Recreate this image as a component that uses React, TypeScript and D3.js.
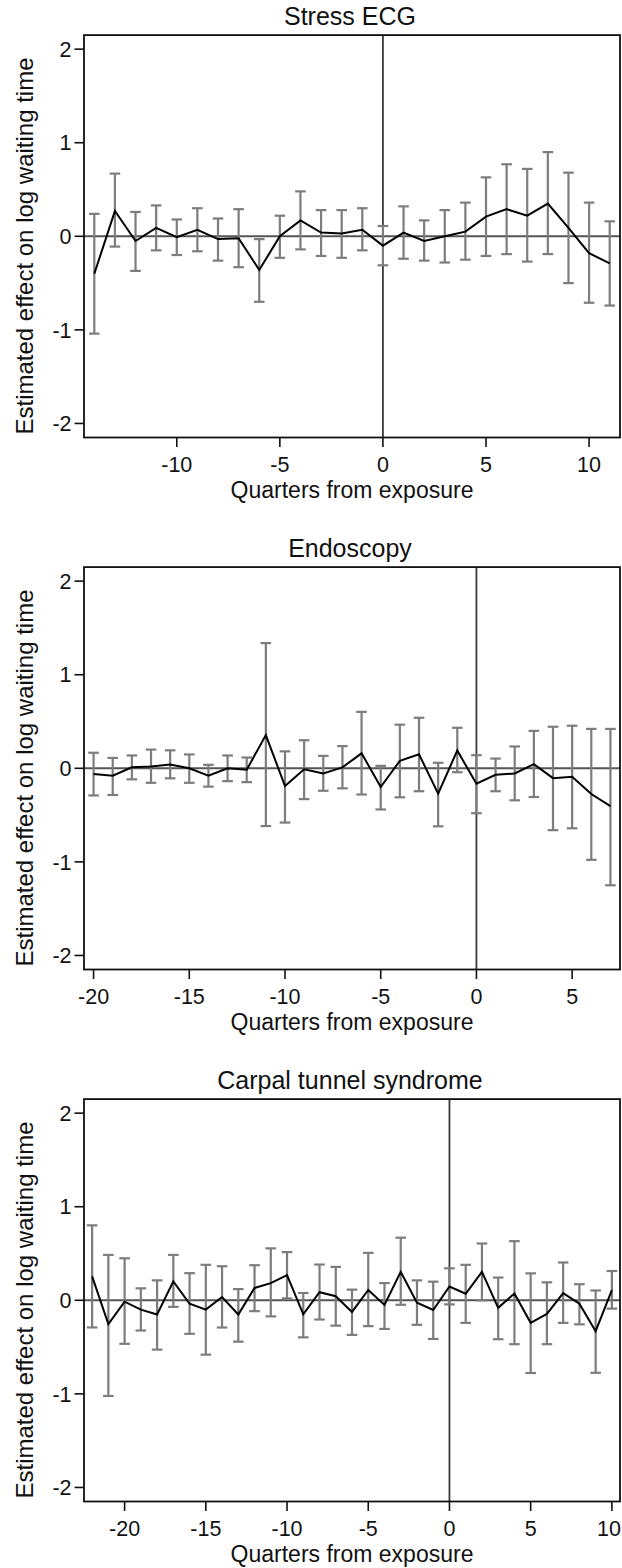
import React from "react";
import * as d3 from "d3";

// Stress ECG: event-study coefficients with 95% confidence bounds
const ecgQuarters = [-14, -13, -12, -11, -10, -9, -8, -7, -6, -5, -4, -3, -2, -1, 0, 1, 2, 3, 4, 5, 6, 7, 8, 9, 10, 11];
const ecgCoef = [-0.40, 0.27, -0.05, 0.09, -0.01, 0.07, -0.03, -0.02, -0.36, 0.00, 0.17, 0.04, 0.03, 0.07, -0.10, 0.04, -0.05, 0.00, 0.05, 0.21, 0.29, 0.22, 0.35, 0.09, -0.18, -0.29];
const ecgLower = [-1.04, -0.11, -0.37, -0.15, -0.20, -0.16, -0.26, -0.33, -0.70, -0.23, -0.14, -0.21, -0.23, -0.15, -0.31, -0.24, -0.26, -0.28, -0.25, -0.21, -0.19, -0.27, -0.19, -0.50, -0.71, -0.74];
const ecgUpper = [0.24, 0.67, 0.26, 0.33, 0.18, 0.30, 0.19, 0.29, -0.03, 0.22, 0.48, 0.28, 0.28, 0.30, 0.11, 0.32, 0.17, 0.28, 0.36, 0.63, 0.77, 0.72, 0.90, 0.68, 0.36, 0.16];

// Endoscopy
const endoQuarters = [-20, -19, -18, -17, -16, -15, -14, -13, -12, -11, -10, -9, -8, -7, -6, -5, -4, -3, -2, -1, 0, 1, 2, 3, 4, 5, 6, 7];
const endoCoef = [-0.06, -0.08, 0.01, 0.02, 0.04, 0.00, -0.08, 0.00, -0.015, 0.355, -0.19, -0.01, -0.055, 0.01, 0.16, -0.20, 0.08, 0.15, -0.27, 0.19, -0.165, -0.07, -0.055, 0.045, -0.105, -0.09, -0.275, -0.405];
const endoLower = [-0.29, -0.285, -0.118, -0.155, -0.107, -0.155, -0.196, -0.137, -0.148, -0.617, -0.58, -0.329, -0.24, -0.214, -0.28, -0.44, -0.31, -0.245, -0.62, -0.042, -0.48, -0.245, -0.342, -0.307, -0.661, -0.641, -0.978, -1.25];
const endoUpper = [0.166, 0.111, 0.137, 0.2, 0.192, 0.148, 0.037, 0.137, 0.115, 1.338, 0.181, 0.3, 0.133, 0.237, 0.603, 0.026, 0.466, 0.54, 0.059, 0.433, 0.14, 0.104, 0.233, 0.4, 0.444, 0.455, 0.421, 0.421];

// Carpal tunnel syndrome
const ctsQuarters = [-22, -21, -20, -19, -18, -17, -16, -15, -14, -13, -12, -11, -10, -9, -8, -7, -6, -5, -4, -3, -2, -1, 0, 1, 2, 3, 4, 5, 6, 7, 8, 9, 10];
const ctsCoef = [0.255, -0.255, -0.015, -0.10, -0.152, 0.202, -0.037, -0.10, 0.035, -0.152, 0.132, 0.183, 0.268, -0.15, 0.087, 0.044, -0.124, 0.11, -0.05, 0.304, -0.026, -0.104, 0.147, 0.07, 0.304, -0.08, 0.072, -0.241, -0.145, 0.076, -0.037, -0.33, 0.108];
const ctsLower = [-0.29, -1.022, -0.465, -0.323, -0.527, -0.07, -0.358, -0.581, -0.291, -0.442, -0.116, -0.172, 0.02, -0.396, -0.205, -0.271, -0.37, -0.276, -0.306, -0.048, -0.262, -0.413, -0.044, -0.241, 0.0, -0.416, -0.469, -0.777, -0.469, -0.241, -0.257, -0.775, -0.089];
const ctsUpper = [0.801, 0.485, 0.449, 0.128, 0.213, 0.485, 0.29, 0.379, 0.364, 0.12, 0.375, 0.555, 0.515, 0.078, 0.382, 0.357, 0.114, 0.507, 0.184, 0.669, 0.213, 0.199, 0.342, 0.379, 0.607, 0.243, 0.632, 0.288, 0.192, 0.404, 0.172, 0.105, 0.313];

const panelTitles = ["Stress ECG", "Endoscopy", "Carpal tunnel syndrome"];
const xDomains: [number, number][] = [[-14.5, 11.5], [-20.5, 7.5], [-22.5, 10.5]];
const xTickValues = [[-10, -5, 0, 5, 10], [-20, -15, -10, -5, 0, 5], [-20, -15, -10, -5, 0, 5, 10]];
const yTickValues = [-2, -1, 0, 1, 2];
const yDomain: [number, number] = [-2.15, 2.15];

const xTitle = "Quarters from exposure";
const yTitle = "Estimated effect on log waiting time";

const W = 622;
const H = 1568;
const FONT = "'Liberation Sans', Arial, Helvetica, sans-serif";
const PANEL_STEP = 532;
const LEFT = 84;
const RIGHT = 620;
const TOP = 35.1;
const BOTTOM = 437.5;
const TICK = 9.5;
const TICK_FONT = 21.5;

type Row = { q: number; b: number; lo: number; hi: number };

function zipRows(q: number[], b: number[], lo: number[], hi: number[]): Row[] {
  return q.map((v, i) => ({ q: v, b: b[i], lo: lo[i], hi: hi[i] }));
}

const panels: Row[][] = [
  zipRows(ecgQuarters, ecgCoef, ecgLower, ecgUpper),
  zipRows(endoQuarters, endoCoef, endoLower, endoUpper),
  zipRows(ctsQuarters, ctsCoef, ctsLower, ctsUpper),
];

function Panel({ idx }: { idx: number }) {
  const rows = panels[idx];
  const x = d3.scaleLinear().domain(xDomains[idx]).range([LEFT, RIGHT]);
  const y = d3.scaleLinear().domain(yDomain).range([BOTTOM, TOP]);
  const line = d3
    .line<Row>()
    .x((d) => x(d.q))
    .y((d) => y(d.b));
  const cap = 5.3;
  const cx = (LEFT + RIGHT) / 2;

  return (
    <g transform={`translate(0, ${idx * PANEL_STEP})`}>
      <text x={350} y={25} textAnchor="middle" fontSize={25} fontFamily={FONT} fill="#111">
        {panelTitles[idx]}
      </text>

      {/* reference lines */}
      <line x1={LEFT} x2={RIGHT} y1={y(0)} y2={y(0)} stroke="#555" strokeWidth={2} />
      <line x1={x(0)} x2={x(0)} y1={TOP} y2={BOTTOM} stroke="#3a3a3a" strokeWidth={1.8} />

      {/* confidence intervals */}
      <g stroke="#7d7d7d" strokeWidth={2.2} fill="none">
        {rows.map((d) => (
          <g key={d.q}>
            <line x1={x(d.q)} x2={x(d.q)} y1={y(d.lo)} y2={y(d.hi)} />
            <line x1={x(d.q) - cap} x2={x(d.q) + cap} y1={y(d.lo)} y2={y(d.lo)} />
            <line x1={x(d.q) - cap} x2={x(d.q) + cap} y1={y(d.hi)} y2={y(d.hi)} />
          </g>
        ))}
      </g>

      {/* point estimates */}
      <path d={line(rows) || ""} fill="none" stroke="#000" strokeWidth={2} strokeLinejoin="miter" />

      {/* plot frame */}
      <rect x={LEFT} y={TOP} width={RIGHT - LEFT} height={BOTTOM - TOP} fill="none" stroke="#111" strokeWidth={1.8} />

      {/* y axis */}
      {yTickValues.map((t) => (
        <g key={`y${t}`}>
          <line x1={LEFT - TICK} x2={LEFT} y1={y(t)} y2={y(t)} stroke="#111" strokeWidth={1.6} />
          <text x={71.5} y={y(t)} dy="0.36em" textAnchor="end" fontSize={TICK_FONT} fontFamily={FONT} fill="#111">
            {t}
          </text>
        </g>
      ))}
      <text
        transform={`translate(33, 246) rotate(-90)`}
        textAnchor="middle"
        fontSize={24}
        fontFamily={FONT}
        fill="#111"
      >
        {yTitle}
      </text>

      {/* x axis */}
      {xTickValues[idx].map((t) => {
        // keep the last label inside the page edge
        const halfWidth = String(t).length * TICK_FONT * 0.28;
        const overflow = x(t) + halfWidth > W - 1;
        return (
          <g key={`x${t}`}>
            <line x1={x(t)} x2={x(t)} y1={BOTTOM} y2={BOTTOM + TICK} stroke="#111" strokeWidth={1.6} />
            <text
              x={overflow ? W - 1 : x(t)}
              y={472}
              textAnchor={overflow ? "end" : "middle"}
              fontSize={TICK_FONT}
              fontFamily={FONT}
              fill="#111"
            >
              {t}
            </text>
          </g>
        );
      })}
      <text x={cx} y={498} textAnchor="middle" fontSize={23} fontFamily={FONT} fill="#111">
        {xTitle}
      </text>
    </g>
  );
}

export default function App() {
  return (
    <svg
      width={W}
      height={H}
      viewBox={`0 0 ${W} ${H}`}
      style={{ position: "absolute", left: 0, top: 0, background: "#fff" }}
    >
      <rect x={0} y={0} width={W} height={H} fill="#fff" />
      {panels.map((_, i) => (
        <Panel key={i} idx={i} />
      ))}
    </svg>
  );
}
